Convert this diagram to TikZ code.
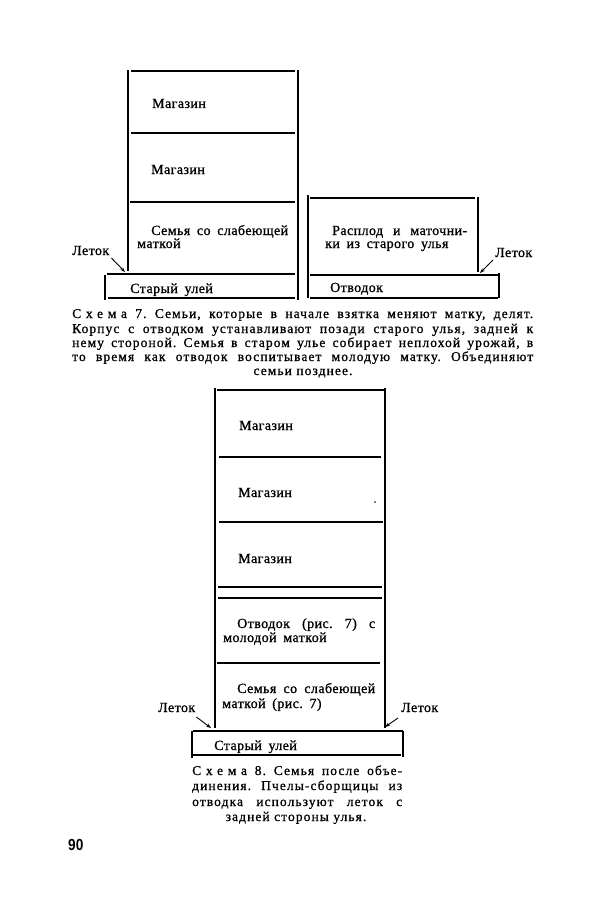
\documentclass[tikz,border=0pt]{standalone}
\usepackage{fontspec}
\setmainfont[LetterSpace=3, WordSpace=1.7, FakeBold=1]{Liberation Serif}
\newfontfamily\capfont[LetterSpace=8, FakeBold=0.9]{Liberation Serif}
\newfontfamily\spacedfont[LetterSpace=35, FakeBold=0.9]{Liberation Serif}
\newfontfamily\pagefont{Liberation Sans}
\usetikzlibrary{arrows.meta}
\frenchspacing
\tikzset{
  wall/.style={line width=1.3pt},
  lbl/.style={anchor=base west, inner sep=0pt, font=\fontsize{14}{16}\selectfont},
  captxt/.style={anchor=base west, inner sep=0pt, font=\capfont\fontsize{13.5}{14}\selectfont},
  captxtc/.style={anchor=base, inner sep=0pt, font=\capfont\fontsize{13.5}{14}\selectfont},
  arr/.style={line width=0.9pt, -{Stealth[length=5pt,width=3.6pt]}},
}
\newcommand\jline[2]{\makebox[#1][s]{#2}}
\begin{document}
\begin{tikzpicture}[x=1pt,y=-1pt]
\useasboundingbox[fill=white] (0,0) rectangle (600,923);

% ---------- Scheme 7: old hive ----------
\draw[wall] (128,70) -- (128,271);
\draw[wall] (298,70) -- (298,300);
\draw[wall] (131,71) -- (295,71);
\draw[wall] (131,133) -- (295,133);
\draw[wall] (130,202) -- (295,202);
\draw[wall] (107,274) -- (295,274);
\draw[wall] (108,298) -- (295,298);
\draw[wall] (105,275) -- (105,300);

\node[lbl] (m1) at (152,108) {Магазин};
\node[lbl] (m2) at (151,174) {Магазин};
\node[lbl] (s1) at (151,235) {Семья со слабеющей};
\node[lbl] (s2) at (137,248) {маткой};
\node[lbl] (su1) at (130,293) {Старый улей};
\node[lbl] (l1) at (72,255) {Леток};
\coordinate (e1) at (125,272);
\draw[arr] ([shift={(2,3)}]l1.base east) -- (e1);

% ---------- Scheme 7: split ----------
\draw[wall] (308,195) -- (308,298);
\draw[wall] (310,198) -- (475,198);
\draw[wall] (478,197) -- (478,272);
\draw[wall] (310,275) -- (498,275);
\draw[wall] (499,273) -- (499,298);
\draw[wall] (310,298) -- (498,298);

\node[lbl] (r1) at (332,235) {\jline{135pt}{Расплод и маточни-}};
\node[lbl] (r2) at (325,248) {ки из старого улья};
\node[lbl] (ot) at (330,292) {Отводок};
\node[lbl] (l2) at (495,257) {Леток};
\coordinate (e2) at (480,273);
\draw[arr] ([shift={(-2,3)}]l2.base west) -- (e2);

% ---------- Caption 7 ----------
\node[captxt] (c7a) at (72,318) {\jline{461pt}{{\spacedfont Схема} 7. Семьи, которые в начале взятка меняют матку, делят.}};
\node[captxt] (c7b) at (72,333) {\jline{461pt}{Корпус с отводком устанавливают позади старого улья, задней к}};
\node[captxt] (c7c) at (72,347) {\jline{461pt}{нему стороной. Семья в старом улье собирает неплохой урожай, в}};
\node[captxt] (c7d) at (72,361) {\jline{461pt}{то время как отводок воспитывает молодую матку. Объединяют}};
\node[captxtc] (c7e) at (303,375) {семьи позднее.};

% ---------- Scheme 8: united hive ----------
\draw[wall] (215,388) -- (215,728);
\draw[wall] (385,388) -- (385,728);
\draw[wall] (217,390) -- (384,390);
\draw[wall] (219,457) -- (381,457);
\draw[wall] (219,522) -- (383,522);
\draw[wall] (218,587) -- (382,587);
\draw[wall] (218,598) -- (382,598);
\draw[wall] (217,663) -- (380,663);
\draw[wall] (193,731) -- (403,731);
\draw[wall] (193,755) -- (401,755);
\draw[wall] (192,731) -- (192,758);
\draw[wall] (403,731) -- (403,757);
\fill (375,502) circle (0.8pt);

\node[lbl] (n1) at (239,430) {Магазин};
\node[lbl] (n2) at (238,497) {Магазин};
\node[lbl] (n3) at (238,563) {Магазин};
\node[lbl] (o1) at (237,628) {\jline{138pt}{Отводок (рис. 7) с}};
\node[lbl] (o2) at (223,642) {молодой маткой};
\node[lbl] (w1) at (237,693) {\jline{138pt}{Семья со слабеющей}};
\node[lbl] (w2) at (222,708) {маткой (рис. 7)};
\node[lbl] (su2) at (214,750) {Старый улей};
\node[lbl] (l3) at (158,712) {Леток};
\node[lbl] (l4) at (401,712) {Леток};
\coordinate (e3) at (211,728);
\coordinate (e4) at (385,727);
\draw[arr] ([shift={(1,5)}]l3.base east) -- (e3);
\draw[arr] ([shift={(-3,6)}]l4.base west) -- (e4);

% ---------- Caption 8 ----------
\node[captxt] (c8a) at (192,775) {\jline{210pt}{{\spacedfont Схема} 8. Семья после объе-}};
\node[captxt] (c8b) at (192,790) {\jline{210pt}{динения. Пчелы-сборщицы из}};
\node[captxt] (c8c) at (192,806) {\jline{210pt}{отводка используют леток с}};
\node[captxtc] (c8d) at (296,821) {задней стороны улья.};

% ---------- page number ----------
\node[anchor=base west, inner sep=0pt] (pg) at (68,850) {\pagefont\bfseries\fontsize{16}{16}\selectfont\scalebox{0.85}[1]{90}};
\end{tikzpicture}
\end{document}
